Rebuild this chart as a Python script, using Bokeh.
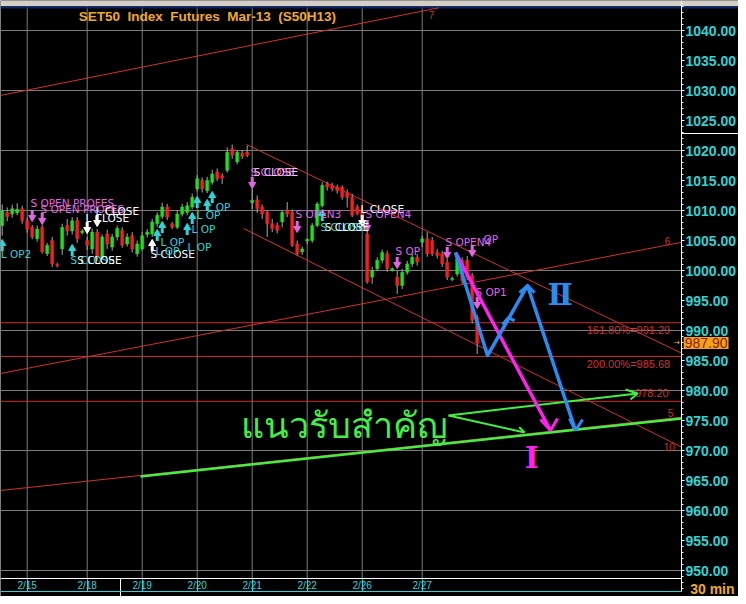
import numpy as np
from bokeh.plotting import figure
from bokeh.models import (Range1d, LinearAxis, FixedTicker, NumeralTickFormatter, Label,
                          ColumnDataSource)
from bokeh.core.properties import value
from bokeh.embed import file_html
from bokeh.resources import INLINE

# ---------------- data ----------------
bars = list(range(96))
opens = [1007.5, 1009.7, 1009.4, 1009.6, 1010.3, 1008.3, 1007.2, 1005.3, 1007.2, 1002.8,
         1005.0, 1001.0, 1003.6, 1007.5, 1006.6, 1008.3, 1006.3, 1005.0, 1003.6, 1006.4,
         1002.2, 1006.1, 1003.9, 1005.6, 1006.7, 1004.4, 1005.8, 1002.8, 1003.6, 1006.0,
         1006.1, 1007.8, 1009.0, 1010.6, 1007.8, 1007.2, 1009.4, 1009.7, 1010.6, 1013.6,
         1015.0, 1013.3, 1014.7, 1016.4, 1015.8, 1016.7, 1020.3, 1018.1, 1019.6, 1019.7,
         1011.3, 1011.8, 1010.6, 1009.7, 1007.8, 1007.5, 1008.1, 1010.0, 1009.7, 1004.4,
         1003.1, 1004.9, 1005.0, 1007.5, 1010.8, 1014.4, 1014.2, 1013.9, 1013.9, 1013.0,
         1012.2, 1010.6, 1010.0, 1006.1, 998.9, 1000.3, 1001.7, 1002.8, 1000.0, 998.9,
         997.5, 999.7, 1001.1, 1002.2, 1004.7, 1005.3, 1005.0, 1003.0, 1002.8, 1001.4,
         998.5, 999.4, 1001.7, 1001.7, 999.2, 992.2]
closes = [1010.0, 1009.0, 1010.3, 1010.2, 1008.3, 1006.9, 1005.6, 1006.9, 1003.1, 1004.2,
          1001.1, 1000.8, 1007.2, 1006.6, 1008.3, 1005.3, 1006.6, 1004.2, 1006.4, 1002.2,
          1005.6, 1004.4, 1005.6, 1007.0, 1004.2, 1005.6, 1003.6, 1004.4, 1005.8, 1006.4,
          1008.1, 1009.2, 1010.6, 1008.9, 1007.2, 1009.4, 1010.6, 1010.8, 1012.2, 1015.3,
          1013.6, 1015.0, 1016.1, 1015.3, 1015.4, 1019.7, 1019.2, 1019.7, 1019.0, 1019.2,
          1011.7, 1010.3, 1009.4, 1007.8, 1007.0, 1006.7, 1009.7, 1009.4, 1004.2, 1002.8,
          1003.6, 1005.2, 1007.5, 1011.1, 1014.2, 1013.9, 1013.6, 1013.3, 1012.2, 1012.2,
          1009.2, 1009.5, 1008.8, 998.1, 1000.0, 1001.7, 1003.0, 1000.3, 1000.3, 997.5,
          999.7, 1001.1, 1002.2, 1001.4, 1005.3, 1002.8, 1002.8, 1002.5, 1001.1, 998.9,
          998.7, 1001.9, 998.3, 998.9, 991.7, 987.9]
highs = [1011.0, 1010.5, 1011.0, 1011.2, 1010.8, 1008.8, 1007.6, 1007.5, 1007.6, 1004.6,
         1005.6, 1001.3, 1007.8, 1008.6, 1008.9, 1008.9, 1006.9, 1005.6, 1007.0, 1006.9,
         1006.0, 1006.8, 1006.1, 1007.5, 1007.2, 1006.2, 1006.4, 1005.0, 1006.4, 1006.9,
         1008.6, 1009.7, 1011.3, 1011.1, 1008.1, 1010.0, 1011.1, 1011.4, 1012.8, 1015.9,
         1015.5, 1015.6, 1016.8, 1017.0, 1016.2, 1020.5, 1021.0, 1020.1, 1020.1, 1020.8,
         1013.6, 1012.5, 1011.0, 1010.0, 1008.6, 1008.0, 1010.0, 1011.4, 1010.2, 1005.0,
         1004.0, 1005.3, 1007.9, 1011.4, 1014.7, 1014.8, 1014.6, 1014.3, 1014.2, 1013.5,
         1012.8, 1011.0, 1010.5, 1006.6, 1000.6, 1002.2, 1003.5, 1003.3, 1000.5, 1000.0,
         1000.3, 1001.6, 1002.8, 1002.7, 1005.8, 1006.4, 1005.6, 1003.6, 1003.3, 1001.9,
         999.0, 1002.5, 1002.2, 1002.4, 999.6, 992.6]
lows = [1005.8, 1008.2, 1008.8, 1009.2, 1007.8, 1006.3, 1005.2, 1004.8, 1002.8, 1002.4,
        1000.6, 1000.5, 1002.6, 1005.8, 1006.0, 1004.6, 1006.0, 1003.4, 1002.8, 1001.6,
        1001.8, 1003.6, 1003.3, 1005.0, 1003.8, 1004.0, 1003.0, 1002.3, 1003.3, 1005.5,
        1005.6, 1007.3, 1008.6, 1008.4, 1006.9, 1006.9, 1009.0, 1009.2, 1010.2, 1013.2,
        1013.0, 1012.9, 1014.3, 1014.9, 1014.4, 1016.3, 1018.6, 1017.7, 1018.6, 1018.9,
        1010.2, 1009.6, 1008.6, 1005.6, 1006.4, 1006.2, 1007.2, 1008.9, 1003.9, 1002.5,
        1002.6, 1004.4, 1004.6, 1007.2, 1010.5, 1013.3, 1013.2, 1012.8, 1011.8, 1010.5,
        1008.9, 1009.2, 1008.5, 997.8, 997.8, 999.9, 1001.2, 999.8, 999.8, 996.1,
        996.9, 999.3, 1000.6, 1000.8, 1003.9, 1002.3, 1002.4, 1002.0, 1000.6, 998.4,
        998.2, 999.0, 997.8, 998.4, 991.2, 986.1]

day_starts = [5, 17, 28, 39, 50, 61, 72, 84]
day_labels = ["2/15", "2/18", "2/19", "2/20", "2/21", "2/22", "2/26", "2/27"]
grid_prices = [950, 960, 970, 980, 990, 1000, 1010, 1020, 1030, 1040]
price_ticks = list(range(950, 1041, 5))
price_minor = list(range(947, 1045))
last_price = 987.90

# chart area limits (bar units / price units)
X0, XR, XEND = -0.34, 135.86, 147.26
YBOT, YTOP, YMIN = 948.667, 1045.0, 945.667
Y_STRIP = 946.55

# red trend lines (bar, price) -> (bar, price)
trend_x0 = [-0.34, 48.86, 48.26, -0.34, -0.34]
trend_y0 = [1029.17, 1021.0, 1007.0, 982.83, 963.33]
trend_x1 = [87.26, 135.86, 135.86, 135.86, 135.86]
trend_y1 = [1043.77, 986.23, 970.57, 1004.7, 975.55]
trend_tags = ["7", "10", "6", "5"]
tag_x = [85.3, 132.3, 132.5, 133.1]
tag_y = [1042.6, 970.6, 1005.0, 976.2]

fib_levels = [991.29, 985.68, 978.20]
fib_labels = ["161.80%=991.29", "200.00%=985.68", "978.20"]

# green support line and hand drawn arrows
support_x = [27.66, 135.86]
support_y = [965.67, 975.35]
gdraw_x0 = [89.26, 89.26, 127.06, 127.06, 104.46]
gdraw_y0 = [975.83, 975.83, 979.5, 979.5, 973.0]
gdraw_x1 = [127.06, 104.46, 124.66, 125.66, 103.4]
gdraw_y1 = [979.5, 973.0, 980.17, 978.5, 973.9]

# blue zig-zag scenario (II)
blue_x = [90.66, 97.06, 105.06, 114.66]
blue_y = [1003.0, 985.83, 997.5, 973.33]
bhead_x0 = [105.06, 105.06, 101.26, 101.26, 114.66, 114.66]
bhead_y0 = [997.5, 997.5, 992.17, 992.17, 973.33, 973.33]
bhead_x1 = [103.46, 106.46, 100.06, 102.46, 113.46, 116.06]
bhead_y1 = [996.3, 996.3, 991.0, 991.6, 975.33, 975.17]

# magenta scenario (I)
mag_x = [90.66, 109.66]
mag_y = [1003.0, 973.33]
mhead_x0 = [109.66, 109.66]
mhead_y0 = [973.33, 973.33]
mhead_x1 = [107.66, 111.06]
mhead_y1 = [975.17, 975.33]

# trading signals
mag_down_x = [6, 8, 50, 59, 73, 79, 89, 94, 95]
mag_down_y = [1008.33, 1007.83, 1013.83, 1006.5, 1006.67, 1000.5, 1002.17, 1002.5, 993.83]
white_down_x = [17, 19, 72]
white_down_y = [1006.33, 1007.5, 1007.5]
white_up_x = [30]
white_up_y = [1005.0]
cyan_up_x = [0, 14, 31, 32, 37, 38, 39, 41, 42, 64]
cyan_up_y = [1005.0, 1004.17, 1006.67, 1008.0, 1007.67, 1009.5, 1012.17, 1011.67, 1013.0, 1010.0]

sig_text = ["L OP2", "S OPEN PROFES", "S OPEN PROFES", "L CLOSE", "L CLOSE", "S CLOSE", "S CLOSE",
            "S CLOSE", "L OP", "L OP", "L OP", "L OP", "L OP", "L OP", "S CLOSE", "S CLOSE",
            "S OPEN3", "S CLOSE", "S CLOSE", "L CLOSE", "S OPEN4", "S OP", "S OPEN4", "OP", "S OP1"]
sig_x = [-0.3, 5.66, 7.66, 18.66, 16.66, 13.66, 15.0,
         29.66, 30.66, 31.66, 37.06, 37.86, 38.86, 40.86, 49.66, 50.3,
         58.66, 63.66, 64.5, 71.66, 72.66, 78.66, 88.66, 96.26, 94.66]
sig_y = [1002.67, 1011.17, 1010.33, 1010.0, 1008.83, 1001.67, 1001.67,
         1002.67, 1003.33, 1004.83, 1004.0, 1006.9, 1009.3, 1010.6, 1016.5, 1016.5,
         1009.42, 1007.33, 1007.33, 1010.33, 1009.42, 1003.33, 1004.83, 1005.33, 996.5]
sig_kind = ["c", "m", "m", "w", "w", "c", "w",
            "w", "c", "c", "c", "c", "c", "c", "m", "l",
            "m", "c", "w", "w", "m", "m", "m", "m", "m"]

# ---------------- style ----------------
UP = "#22dd22"; DOWN = "#ee2222"; WICK = "#a8a8a8"
CYAN = "#2fd3d6"; ORANGE = "#f0aa2a"; MAG = "#e066e0"; RED = "#cc3333"
GREEN = "#44ee44"; BLUE = "#2b8cf0"; PINK = "#ff22ee"; WHITE = "#ffffff"
GRID = "#7c7c7c"
kind_color = {"c": CYAN, "m": MAG, "w": WHITE, "l": "#f4c8f4"}

p = figure(width=738, height=596, x_range=Range1d(X0, XEND), y_range=Range1d(YMIN, YTOP),
           x_axis_location=None, y_axis_location=None,
           output_backend="svg", toolbar_location=None,
           min_border_left=0, min_border_top=0, min_border_right=0, min_border_bottom=0,
           background_fill_color="black", border_fill_color="black", outline_line_color=None)
p.grid.visible = False

# grid lines limited to the chart area
p.segment(x0=[X0] * len(grid_prices), y0=grid_prices, x1=[XR] * len(grid_prices), y1=grid_prices,
          line_color=GRID, line_width=1)
p.segment(x0=day_starts, y0=[YBOT] * len(day_starts), x1=day_starts, y1=[YTOP] * len(day_starts),
          line_color=GRID, line_width=1)

# price axis on the right edge of the chart area
ya = LinearAxis(fixed_location=XR, bounds=(Y_STRIP, YTOP),
                ticker=FixedTicker(ticks=price_ticks, minor_ticks=price_minor),
                formatter=NumeralTickFormatter(format="0.00"))
ya.axis_line_color = WHITE
ya.major_tick_line_color = WHITE
ya.minor_tick_line_color = WHITE
ya.major_tick_out = 3
ya.major_tick_in = 0
ya.minor_tick_out = 2
ya.minor_tick_in = 0
ya.major_label_standoff = 1
ya.major_label_text_color = CYAN
ya.major_label_text_font = "Liberation Sans"
ya.major_label_text_font_style = "bold"
ya.major_label_text_font_size = "14px"
p.add_layout(ya, "right")

# date axis under the chart area
xa = LinearAxis(fixed_location=YBOT, bounds=(X0, XR), ticker=FixedTicker(ticks=day_starts))
xa.major_label_overrides = dict(zip(day_starts, day_labels))
xa.major_label_text_align = "left"
xa.axis_line_color = WHITE
xa.major_tick_out = 0
xa.major_tick_in = 0
xa.minor_tick_line_color = None
xa.major_label_standoff = 2
xa.major_label_text_color = CYAN
xa.major_label_text_font = "Liberation Sans"
xa.major_label_text_font_size = "10px"
p.add_layout(xa, "below")

xa2 = LinearAxis(fixed_location=Y_STRIP, bounds=(X0, XR), ticker=FixedTicker(ticks=day_starts),
                 axis_line_color=CYAN, major_tick_line_color=CYAN, major_tick_in=12,
                 major_tick_out=0, minor_tick_line_color=None, major_label_text_font_size="0px",
                 major_label_standoff=0)
xa2.major_label_overrides = {d: "" for d in day_starts}
p.add_layout(xa2, "below")

# window strip on top
p.quad(left=[X0], right=[XEND], bottom=[1044.05], top=[YTOP], fill_color="#d4d0c8", line_color=None)
p.segment(x0=[X0], y0=[1043.83], x1=[XEND], y1=[1043.83], line_color="#0a246a", line_width=2)

# red trend lines and fibonacci levels
p.segment(x0=trend_x0, y0=trend_y0, x1=trend_x1, y1=trend_y1, line_color=RED, line_width=1)
p.segment(x0=[X0] * 3, y0=fib_levels, x1=[XR] * 3, y1=fib_levels, line_color=RED, line_width=1)
p.text(x=tag_x, y=tag_y, text=trend_tags, text_color=RED, text_font=value("Liberation Sans"),
       text_font_size="10px", text_baseline="middle", text_align="left")
p.text(x=[133.6, 133.6, 133.3], y=[fib_levels[0] - 1.25, fib_levels[1] - 1.25, fib_levels[2] + 1.35],
       text=fib_labels, text_color=RED, text_font=value("Liberation Sans"), text_font_size="11px",
       text_baseline="middle", text_align="right")

# candles
o = np.array(opens); c = np.array(closes)
src = ColumnDataSource(dict(x=bars, top=np.maximum(o, c), bottom=np.minimum(o, c),
                            high=highs, low=lows,
                            color=[UP if cc >= oo else DOWN for oo, cc in zip(opens, closes)]))
p.segment(x0="x", y0="low", x1="x", y1="high", line_color=WICK, line_width=1, source=src)
p.vbar(x="x", width=0.6, top="top", bottom="bottom", fill_color="color", line_color="color",
       line_width=0.5, source=src)

# signal arrows
def down_arrows(xs, ys, col):
    p.segment(x0=xs, y0=[y + 1.75 for y in ys], x1=xs, y1=[y + 0.6 for y in ys],
              line_color=col, line_width=3)
    p.scatter(x=xs, y=[y + 0.5 for y in ys], marker="inverted_triangle", size=7,
              fill_color=col, line_color=col)

def up_arrows(xs, ys, col):
    p.segment(x0=xs, y0=[y - 1.75 for y in ys], x1=xs, y1=[y - 0.6 for y in ys],
              line_color=col, line_width=3)
    p.scatter(x=xs, y=[y - 0.5 for y in ys], marker="triangle", size=7,
              fill_color=col, line_color=col)

down_arrows(mag_down_x, mag_down_y, MAG)
down_arrows(white_down_x, white_down_y, WHITE)
up_arrows(white_up_x, white_up_y, WHITE)
up_arrows(cyan_up_x, cyan_up_y, CYAN)

ssrc = ColumnDataSource(dict(x=sig_x, y=sig_y, t=sig_text, col=[kind_color[k] for k in sig_kind]))
p.text(x="x", y="y", text="t", source=ssrc, text_color="col", text_font=value("DejaVu Sans"),
       text_font_size="10.5px", text_baseline="middle", text_align="left")

# hand drawn scenario
p.line(x=support_x, y=support_y, line_color=GREEN, line_width=2.5)
p.segment(x0=gdraw_x0, y0=gdraw_y0, x1=gdraw_x1, y1=gdraw_y1, line_color=GREEN, line_width=2)
p.line(x=mag_x, y=mag_y, line_color=PINK, line_width=3.5)
p.segment(x0=mhead_x0, y0=mhead_y0, x1=mhead_x1, y1=mhead_y1, line_color=PINK, line_width=3)
p.line(x=blue_x, y=blue_y, line_color=BLUE, line_width=3.5, line_join="round")
p.segment(x0=bhead_x0, y0=bhead_y0, x1=bhead_x1, y1=bhead_y1, line_color=BLUE, line_width=3)

p.text(x=[111.6], y=[996.0], text=["Ⅱ"], text_color=BLUE, text_font=value("DejaVu Serif"),
       text_font_style="bold", text_font_size="30px", text_baseline="middle", text_align="center")
p.text(x=[105.9], y=[968.8], text=["Ⅰ"], text_color=PINK, text_font=value("DejaVu Serif"),
       text_font_style="bold", text_font_size="30px", text_baseline="middle", text_align="center")
p.text(x=[47.7], y=[974.3], text=["แนวรับสำคัญ"], text_color=GREEN, text_font=value("Noto Sans"),
       text_font_size="36px", text_baseline="middle", text_align="left")

# cursor marks
p.segment(x0=[23.66, XR], y0=[Y_STRIP - 1.5, 1022.83], x1=[23.66, XEND], y1=[YBOT, 1022.83],
          line_color=WHITE, line_width=1)
p.text(x=[134.9], y=[last_price + 0.1], text=["→"], text_color=ORANGE,
       text_font=value("DejaVu Sans"), text_font_size="8px", text_baseline="middle",
       text_align="center")

# title and tags
p.add_layout(Label(x=15.3, y=1042.33,
                   text="SET50\u00a0\u00a0Index\u00a0\u00a0Futures\u00a0\u00a0Mar-13\u00a0\u00a0(S50H13)",
                   text_color=ORANGE, text_font="Liberation Sans", text_font_style="bold",
                   text_font_size="13.5px", text_baseline="middle"))
p.add_layout(Label(x=136.3, y=last_price, text="987.90", text_color="#8a1c00",
                   background_fill_color="#f5a21b", text_font="Liberation Sans",
                   text_font_size="14px", text_baseline="middle", padding=1))
p.add_layout(Label(x=137.6, y=946.85, text="30 min",
                   text_color=ORANGE, text_font="Liberation Sans", text_font_style="bold",
                   text_font_size="14px", text_baseline="middle"))

open("out.html", "w").write(file_html(p, INLINE))
